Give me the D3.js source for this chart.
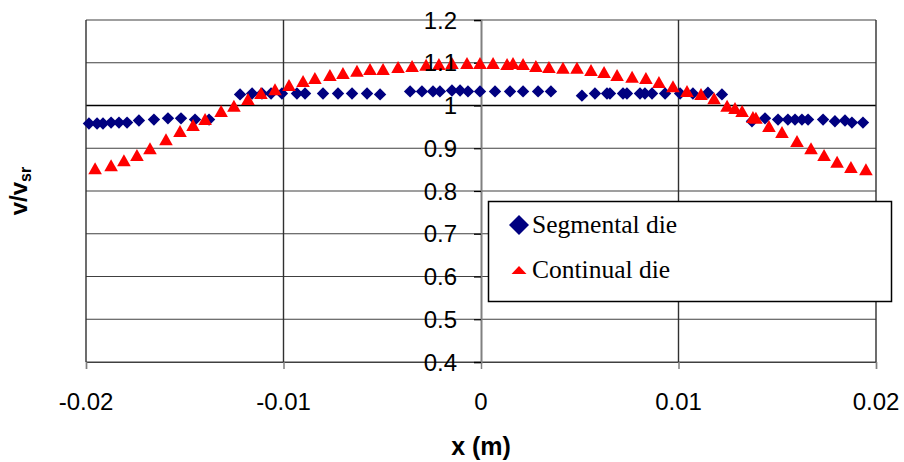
<!DOCTYPE html>
<html>
<head>
<meta charset="utf-8">
<script src="https://cdn.jsdelivr.net/npm/d3@7"></script>
<style>
  html, body { margin: 0; padding: 0; background: #fff; }
  svg { display: block; }
</style>
</head>
<body>
<svg id="chart" width="904" height="462"></svg>
<script>
// ---- Data ----
const xTicks = [-0.02, -0.01, 0, 0.01, 0.02];
const xTickLabels = ["-0.02", "-0.01", "0", "0.01", "0.02"];
const yTicks = [0.4, 0.5, 0.6, 0.7, 0.8, 0.9, 1.0, 1.1, 1.2];
const yTickLabels = ["0.4", "0.5", "0.6", "0.7", "0.8", "0.9", "1", "1.1", "1.2"];

const seriesNames = ["Segmental die", "Continual die"];

const segX = [-0.01985, -0.01944, -0.01914, -0.01873, -0.01833, -0.01792, -0.01732, -0.01656, -0.01585, -0.01519,
  -0.01448, -0.01377, -0.01220, -0.01159, -0.01109, -0.01063, -0.01008, -0.00932, -0.00891, -0.00800,
  -0.00724, -0.00653, -0.00577, -0.00511, -0.00359, -0.00299, -0.00243, -0.00208, -0.00147, -0.00106,
  -0.00066, -0.00005, 0.00071, 0.00147, 0.00213, 0.00289, 0.00354, 0.00511, 0.00577, 0.00638,
  0.00653, 0.00719, 0.00739, 0.00805, 0.00830, 0.00866, 0.00932, 0.01008, 0.01073, 0.01149,
  0.01220, 0.01372, 0.01438, 0.01504, 0.01554, 0.01590, 0.01625, 0.01656, 0.01732, 0.01792,
  0.01843, 0.01878, 0.01934];
const segV = [0.958, 0.958, 0.958, 0.960, 0.960, 0.960, 0.965, 0.967, 0.970, 0.970,
  0.967, 0.967, 1.026, 1.028, 1.028, 1.028, 1.028, 1.028, 1.028, 1.028,
  1.028, 1.028, 1.028, 1.026, 1.033, 1.033, 1.033, 1.033, 1.035, 1.035,
  1.033, 1.033, 1.033, 1.033, 1.033, 1.033, 1.033, 1.023, 1.028, 1.028,
  1.028, 1.028, 1.028, 1.028, 1.028, 1.028, 1.028, 1.028, 1.028, 1.030,
  1.026, 0.963, 0.970, 0.967, 0.967, 0.967, 0.967, 0.967, 0.967, 0.963,
  0.965, 0.960, 0.960];

const contX = [-0.01954, -0.01873, -0.01808, -0.01742, -0.01676, -0.01595, -0.01524, -0.01458, -0.01397, -0.01316,
  -0.01251, -0.01180, -0.01114, -0.01043, -0.00972, -0.00901, -0.00841, -0.00765, -0.00699, -0.00628,
  -0.00562, -0.00496, -0.00420, -0.00349, -0.00278, -0.00213, -0.00147, -0.00071, -0.00005, 0.00061,
  0.00132, 0.00162, 0.00213, 0.00278, 0.00344, 0.00415, 0.00486, 0.00557, 0.00623, 0.00689,
  0.00765, 0.00835, 0.00901, 0.00972, 0.01043, 0.01114, 0.01180, 0.01246, 0.01286, 0.01322,
  0.01377, 0.01392, 0.01458, 0.01524, 0.01600, 0.01671, 0.01737, 0.01803, 0.01873, 0.01949];
const contV = [0.852, 0.859, 0.871, 0.883, 0.899, 0.920, 0.939, 0.953, 0.967, 0.986,
  0.998, 1.014, 1.028, 1.037, 1.047, 1.056, 1.063, 1.070, 1.075, 1.080,
  1.084, 1.084, 1.089, 1.091, 1.094, 1.096, 1.098, 1.098, 1.098, 1.098,
  1.096, 1.098, 1.096, 1.091, 1.089, 1.087, 1.087, 1.082, 1.077, 1.070,
  1.066, 1.063, 1.054, 1.044, 1.033, 1.026, 1.016, 0.998, 0.993, 0.986,
  0.972, 0.970, 0.951, 0.937, 0.916, 0.899, 0.883, 0.867, 0.855, 0.850];

// ---- Drawing ----
const svg = d3.select("#chart");
const L = 86, R = 876, T = 20, B = 362;
const x = d3.scaleLinear().domain([-0.02, 0.02]).range([L, R]);
const y = d3.scaleLinear().domain([0.4, 1.2]).range([B, T]);

// horizontal gridlines
svg.append("g").selectAll("line").data(yTicks).join("line")
  .attr("x1", L).attr("x2", R)
  .attr("y1", d => y(d)).attr("y2", d => y(d))
  .attr("stroke", d => Math.abs(d - 1) < 1e-9 ? "#000" : "#404040")
  .attr("stroke-width", d => Math.abs(d - 1) < 1e-9 ? 1.6 : 1.2);

// vertical gridlines
svg.append("g").selectAll("line").data(xTicks.filter(d => d !== 0)).join("line")
  .attr("x1", d => x(d)).attr("x2", d => x(d))
  .attr("y1", T).attr("y2", B)
  .attr("stroke", "#303030").attr("stroke-width", 1.4);

// x axis at bottom (ticks downward)
const xAxis = d3.axisBottom(x).tickValues(xTicks).tickSize(7).tickFormat("");
const gx = svg.append("g").attr("transform", `translate(0,${B})`).call(xAxis);
gx.select(".domain").attr("stroke", "#404040").attr("stroke-width", 1.2);
gx.selectAll(".tick line").attr("stroke", "#808080").attr("stroke-width", 1.5);

// y axis crossing at x = 0
const yAxis = d3.axisLeft(y).tickValues(yTicks).tickSize(7).tickFormat("");
const gy = svg.append("g").attr("transform", `translate(${x(0)},0)`).call(yAxis);
gy.select(".domain").attr("stroke", "#808080").attr("stroke-width", 2);
gy.selectAll(".tick line").attr("stroke", "#000").attr("stroke-width", 1.2);

// series markers
const diamond = "M0,-6.2L6.2,0L0,6.2L-6.2,0Z";
const triangle = "M0,-6.5L6.8,5.5L-6.8,5.5Z";

svg.append("g").selectAll("path").data(segX.map((d, i) => [d, segV[i]])).join("path")
  .attr("d", diamond)
  .attr("transform", d => `translate(${x(d[0])},${y(d[1])})`)
  .attr("fill", "#000080");

svg.append("g").selectAll("path").data(contX.map((d, i) => [d, contV[i]])).join("path")
  .attr("d", triangle)
  .attr("transform", d => `translate(${x(d[0])},${y(d[1])})`)
  .attr("fill", "#ff0000");

// y tick labels (drawn next to the axis at x = 0)
svg.append("g").selectAll("text").data(yTicks).join("text")
  .attr("x", x(0) - 24).attr("y", d => y(d))
  .attr("dy", "0.36em")
  .attr("text-anchor", "end")
  .attr("font-family", "Liberation Sans, Arial, sans-serif")
  .attr("font-size", 24)
  .attr("fill", "#000")
  .text((d, i) => yTickLabels[i]);

// x tick labels
svg.append("g").selectAll("text").data(xTicks).join("text")
  .attr("x", d => x(d)).attr("y", 410)
  .attr("text-anchor", "middle")
  .attr("font-family", "Liberation Sans, Arial, sans-serif")
  .attr("font-size", 24)
  .attr("fill", "#000")
  .text((d, i) => xTickLabels[i]);

// axis titles
svg.append("text")
  .attr("x", x(0)).attr("y", 455)
  .attr("text-anchor", "middle")
  .attr("font-family", "Liberation Sans, Arial, sans-serif")
  .attr("font-size", 25).attr("font-weight", "bold")
  .text("x (m)");

const yt = svg.append("text")
  .attr("transform", `translate(27,${(T + B) / 2}) rotate(-90)`)
  .attr("text-anchor", "middle")
  .attr("font-family", "Liberation Sans, Arial, sans-serif")
  .attr("font-size", 24).attr("font-weight", "bold");
yt.append("tspan").text("v/v");
yt.append("tspan").attr("font-size", 16).attr("baseline-shift", "-4").text("sr");

// legend
const lg = svg.append("g");
lg.append("rect").attr("x", 488.5).attr("y", 201.5).attr("width", 403).attr("height", 100)
  .attr("fill", "#fff").attr("stroke", "#000").attr("stroke-width", 1.5);
lg.append("path").attr("d", "M0,-10L10,0L0,10L-10,0Z")
  .attr("transform", "translate(519,225)").attr("fill", "#000080");
lg.append("path").attr("d", "M0,-4L7.5,4L-7.5,4Z")
  .attr("transform", "translate(519,270)").attr("fill", "#ff0000");
lg.selectAll("text.lt").data(seriesNames).join("text")
  .attr("class", "lt")
  .attr("x", 532).attr("y", (d, i) => i === 0 ? 233 : 278)
  .attr("font-family", "Liberation Serif, Times New Roman, serif")
  .attr("font-size", 25.5)
  .attr("fill", "#000")
  .text(d => d);
</script>
</body>
</html>
